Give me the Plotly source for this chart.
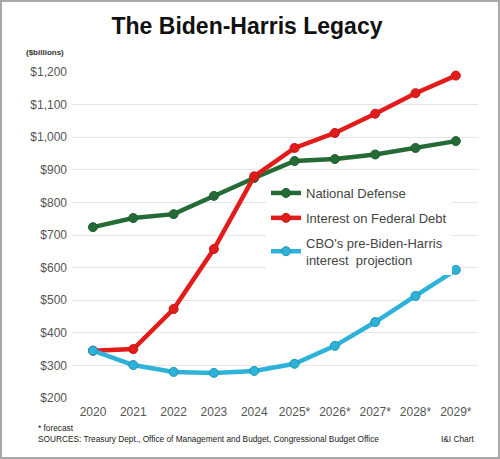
import plotly.graph_objects as go

years = ["2020", "2021", "2022", "2023", "2024", "2025*", "2026*", "2027*", "2028*", "2029*"]
defense = [724, 752, 764, 820, 875, 927, 933, 947, 967, 988]
interest = [345, 350, 473, 657, 880, 967, 1013, 1072, 1135, 1189]
cbo = [345, 301, 280, 277, 283, 305, 360, 433, 513, 593]
y_ticks = [200, 300, 400, 500, 600, 700, 800, 900, 1000, 1100, 1200]
y_tick_text = ["&#36;" + f"{v:,}" for v in y_ticks]

series = [
    ("National Defense", defense, "#246b35", "#1f5e2f"),
    ("Interest on Federal Debt", interest, "#e21b1b", "#c81515"),
    ("CBO's pre-Biden-Harris<br>interest  projection", cbo, "#2eb2d8", "#1f93b8"),
]

fig = go.Figure()
for i, (name, vals, col, mcol) in enumerate(series):
    fig.add_trace(go.Scatter(
        x=years, y=vals, name=name, mode="lines+markers",
        line=dict(color=col, width=4.5),
        marker=dict(color=col, size=9, line=dict(color=mcol, width=1)),
        legendgroup=str(i), cliponaxis=False,
    ))

L, R, T, B = 72, 22, 72, 61
W, H = 500, 459
pw, ph = W - L - R, H - T - B

def px(x):
    return (x - L) / pw

def py(y):
    return (H - B - y) / ph

foot_font = dict(family="Liberation Sans, Arial, sans-serif", size=8.3, color="#222222")

fig.update_layout(
    width=W, height=H,
    margin=dict(l=L, r=R, t=T, b=B),
    paper_bgcolor="white", plot_bgcolor="white",
    font=dict(family="Liberation Sans, Arial, sans-serif", color="#555555"),
    showlegend=True,
    legend=dict(
        x=px(266), y=py(178), xanchor="left", yanchor="top",
        bgcolor="white", font=dict(size=13, color="#444444"),
        traceorder="grouped", tracegroupgap=5, itemwidth=30,
    ),
    title=dict(
        text="<b>The Biden-Harris Legacy</b>",
        x=247 / W, xref="container", xanchor="center",
        y=1 - 26 / H, yref="container", yanchor="middle",
        font=dict(size=23, color="#111111"),
    ),
    xaxis=dict(
        type="category", range=[-0.52, 9.55], showgrid=False,
        showline=False, zeroline=False, ticks="", automargin=False,
        tickfont=dict(size=12, color="#555555"), ticklabelstandoff=5,
    ),
    yaxis=dict(
        range=[200, 1200], tickvals=y_ticks, ticktext=y_tick_text,
        showgrid=True, gridcolor="#e6e6e6", gridwidth=1,
        zeroline=False, showline=False, ticks="", automargin=False,
        tickfont=dict(size=12, color="#555555"), ticklabelstandoff=4,
    ),
    shapes=[dict(
        type="rect", xref="paper", yref="paper",
        x0=px(1), x1=px(499), y0=py(458), y1=py(1),
        line=dict(color="#a8a8a8", width=2), fillcolor="rgba(0,0,0,0)",
        layer="below",
    )],
    annotations=[
        dict(text="<b>($billions)</b>", xref="paper", yref="paper",
             x=px(24), y=py(53), xanchor="left", yanchor="middle",
             showarrow=False, font=dict(size=8, color="#333333")),
        dict(text="* forecast", xref="paper", yref="paper",
             x=px(36), y=py(428), xanchor="left", yanchor="middle",
             showarrow=False, font=foot_font),
        dict(text="SOURCES: Treasury Dept., Office of Management and Budget, Congressional Budget Office",
             xref="paper", yref="paper",
             x=px(36), y=py(439), xanchor="left", yanchor="middle",
             showarrow=False, font=foot_font),
        dict(text="I&amp;I Chart", xref="paper", yref="paper",
             x=px(476), y=py(439), xanchor="right", yanchor="middle",
             showarrow=False, font=foot_font),
    ],
)

fig.write_html(
    "out.html",
    config={"displayModeBar": False},
    post_script="document.body.style.margin='0';document.body.style.overflow='hidden';",
)
